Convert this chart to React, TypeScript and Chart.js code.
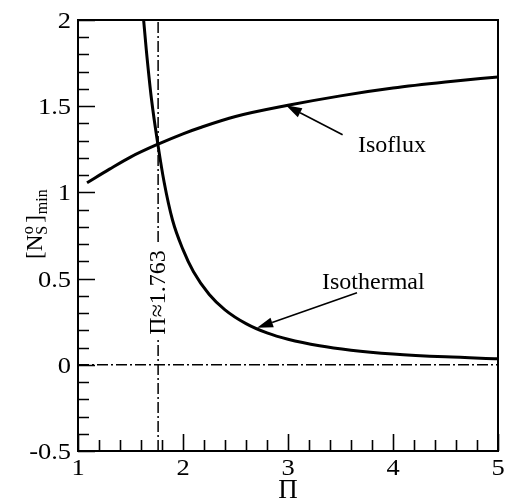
import React, { useEffect, useRef } from "react";
import { Chart, registerables } from "chart.js";

Chart.register(...registerables);

// Minimum Nusselt-type number [N_S^o]_min against Π for the two wall conditions
const isofluxPi = [1.086, 1.3, 1.5, 1.763, 2.0, 2.16, 2.5, 3.0, 3.5, 4.0, 4.5, 5.0];
const isofluxN = [1.056, 1.135, 1.205, 1.28, 1.34, 1.375, 1.44, 1.505, 1.56, 1.605, 1.64, 1.67];

const isothermalPi = [1.6, 1.622, 1.65, 1.7, 1.763, 1.82, 1.9, 2.0, 2.1, 2.25, 2.4, 2.6, 2.8, 3.0, 3.3, 3.6, 4.0, 4.5, 5.0];
const isothermalN = [2.2, 2.02, 1.83, 1.54, 1.27, 1.06, 0.84, 0.668, 0.54, 0.408, 0.319, 0.239, 0.185, 0.148, 0.11, 0.085, 0.063, 0.046, 0.035];

// Crossing point of the two curves
const piCross = 1.763;
const crossLabel = "Π≈1.763";

// Axis ranges and ticks
const xMin = 1;
const xMax = 5;
const yMin = -0.5;
const yMax = 2;
const xTicks = [1, 2, 3, 4, 5];
const xTickLabels = ["1", "2", "3", "4", "5"];
const yTicks = [-0.5, 0, 0.5, 1, 1.5, 2];
const yTickLabels = ["-0.5", "0", "0.5", "1", "1.5", "2"];
const xMinorStep = 0.2;
const yMinorStep = 0.1;

// Callout labels (text anchor) and arrows (tail -> tip), in data units
const isofluxLabel = { text: "Isoflux", x: 3.667, y: 1.235 };
const isofluxArrow = { x0: 3.52, y0: 1.334, x1: 2.98, y1: 1.505 };
const isothermalLabel = { text: "Isothermal", x: 3.324, y: 0.441 };
const isothermalArrow = { x0: 3.657, y0: 0.418, x1: 2.705, y1: 0.215 };

const SERIF = '"Liberation Serif", "Times New Roman", serif';

const toPoints = (xs: number[], ys: number[]) => xs.map((x, i) => ({ x, y: ys[i] }));

function drawArrow(ctx: CanvasRenderingContext2D, x0: number, y0: number, x1: number, y1: number) {
  const ang = Math.atan2(y1 - y0, x1 - x0);
  const len = 16;
  const half = 5;
  const bx = x1 - len * Math.cos(ang);
  const by = y1 - len * Math.sin(ang);
  ctx.beginPath();
  ctx.moveTo(x0, y0);
  ctx.lineTo(bx, by);
  ctx.lineWidth = 1.6;
  ctx.stroke();
  ctx.beginPath();
  ctx.moveTo(x1, y1);
  ctx.lineTo(bx + half * Math.sin(ang), by - half * Math.cos(ang));
  ctx.lineTo(bx - half * Math.sin(ang), by + half * Math.cos(ang));
  ctx.closePath();
  ctx.fill();
}

const figurePlugin = {
  id: "figureDecor",
  beforeDatasetsDraw(chart: any) {
    const { ctx, chartArea: a, scales } = chart;
    const xs = scales.x;
    const ys = scales.y;
    ctx.save();
    ctx.strokeStyle = "#000";
    ctx.lineWidth = 1.5;
    ctx.setLineDash([11, 3, 2, 3]);
    // zero line
    const y0 = ys.getPixelForValue(0);
    ctx.beginPath();
    ctx.moveTo(a.left, y0);
    ctx.lineTo(a.right, y0);
    ctx.stroke();
    // vertical line at the crossing
    const xc = xs.getPixelForValue(piCross);
    ctx.beginPath();
    ctx.moveTo(xc, a.bottom);
    ctx.lineTo(xc, a.top);
    ctx.stroke();
    ctx.setLineDash([]);

    // rotated label sitting on the vertical line
    ctx.font = `24px ${SERIF}`;
    const w = ctx.measureText(crossLabel).width;
    const startY = ys.getPixelForValue(0.175);
    ctx.fillStyle = "#fff";
    ctx.fillRect(xc - 11, startY - w - 6, 21, w + 9);
    ctx.translate(xc + 7, startY);
    ctx.rotate(-Math.PI / 2);
    ctx.fillStyle = "#000";
    ctx.textAlign = "left";
    ctx.textBaseline = "alphabetic";
    ctx.fillText(crossLabel, 0, 0);
    ctx.restore();
  },
  afterDatasetsDraw(chart: any) {
    const { ctx, chartArea: a, scales } = chart;
    const xs = scales.x;
    const ys = scales.y;
    ctx.save();
    ctx.strokeStyle = "#000";
    ctx.fillStyle = "#000";

    // frame
    ctx.lineWidth = 2;
    ctx.strokeRect(a.left, a.top, a.right - a.left, a.bottom - a.top);

    // inward ticks on the bottom and left axes
    ctx.lineWidth = 1.6;
    ctx.beginPath();
    const nx = Math.round((xMax - xMin) / xMinorStep);
    for (let i = 0; i <= nx; i++) {
      const v = xMin + i * xMinorStep;
      const major = xTicks.some((t) => Math.abs(t - v) < 1e-6);
      const px = Math.round(xs.getPixelForValue(v)) + 0.5;
      ctx.moveTo(px, a.bottom);
      ctx.lineTo(px, a.bottom - (major ? 17 : 11));
    }
    const ny = Math.round((yMax - yMin) / yMinorStep);
    for (let i = 0; i <= ny; i++) {
      const v = yMin + i * yMinorStep;
      const major = yTicks.some((t) => Math.abs(t - v) < 1e-6);
      const py = Math.round(ys.getPixelForValue(v)) + 0.5;
      ctx.moveTo(a.left, py);
      ctx.lineTo(a.left + (major ? 17 : 11), py);
    }
    ctx.stroke();

    // tick labels
    const stretch = 1.15;
    ctx.font = `23px ${SERIF}`;
    ctx.textBaseline = "alphabetic";
    xTicks.forEach((t, i) => {
      ctx.save();
      ctx.translate(xs.getPixelForValue(t), a.bottom + 24);
      ctx.scale(stretch, 1);
      ctx.textAlign = "center";
      ctx.fillText(xTickLabels[i], 0, 0);
      ctx.restore();
    });
    yTicks.forEach((t, i) => {
      ctx.save();
      ctx.translate(a.left - 7, ys.getPixelForValue(t) + 8);
      ctx.scale(stretch, 1);
      ctx.textAlign = "right";
      ctx.fillText(yTickLabels[i], 0, 0);
      ctx.restore();
    });

    // callouts
    ctx.font = `24px ${SERIF}`;
    ctx.textAlign = "left";
    ctx.fillText(isofluxLabel.text, xs.getPixelForValue(isofluxLabel.x), ys.getPixelForValue(isofluxLabel.y));
    ctx.fillText(isothermalLabel.text, xs.getPixelForValue(isothermalLabel.x), ys.getPixelForValue(isothermalLabel.y));
    drawArrow(
      ctx,
      xs.getPixelForValue(isofluxArrow.x0),
      ys.getPixelForValue(isofluxArrow.y0),
      xs.getPixelForValue(isofluxArrow.x1),
      ys.getPixelForValue(isofluxArrow.y1)
    );
    drawArrow(
      ctx,
      xs.getPixelForValue(isothermalArrow.x0),
      ys.getPixelForValue(isothermalArrow.y0),
      xs.getPixelForValue(isothermalArrow.x1),
      ys.getPixelForValue(isothermalArrow.y1)
    );

    // x axis title
    ctx.font = `27px ${SERIF}`;
    ctx.textAlign = "center";
    ctx.fillText("Π", (a.left + a.right) / 2, a.bottom + 47);

    // y axis title [N_S^o]_min, rotated
    ctx.save();
    ctx.translate(42, 259);
    ctx.rotate(-Math.PI / 2);
    ctx.textAlign = "left";
    ctx.font = `23px ${SERIF}`;
    ctx.fillText("[N", 0, 0);
    let u = ctx.measureText("[N").width;
    ctx.font = `16px ${SERIF}`;
    ctx.fillText("S", u, 5);
    ctx.fillText("o", u + 0.5, -9);
    u += ctx.measureText("S").width + 3;
    ctx.font = `23px ${SERIF}`;
    ctx.fillText("]", u, 0);
    u += ctx.measureText("]").width + 1;
    ctx.font = `16px ${SERIF}`;
    ctx.fillText("min", u, 5);
    ctx.restore();

    ctx.restore();
  },
};

export default function App() {
  const canvasRef = useRef<HTMLCanvasElement | null>(null);

  useEffect(() => {
    const canvas = canvasRef.current;
    if (!canvas) return;
    const chart = new Chart(canvas, {
      type: "line",
      data: {
        datasets: [
          {
            label: "Isoflux",
            data: toPoints(isofluxPi, isofluxN),
            borderColor: "#000",
            borderWidth: 3,
            pointRadius: 0,
            cubicInterpolationMode: "monotone",
            fill: false,
          },
          {
            label: "Isothermal",
            data: toPoints(isothermalPi, isothermalN),
            borderColor: "#000",
            borderWidth: 3,
            pointRadius: 0,
            cubicInterpolationMode: "monotone",
            fill: false,
          },
        ],
      },
      options: {
        responsive: false,
        animation: false,
        devicePixelRatio: 1,
        layout: { padding: { left: 78, top: 20, right: 11, bottom: 50 } },
        plugins: { legend: { display: false }, tooltip: { enabled: false } },
        scales: {
          x: { type: "linear", min: xMin, max: xMax, display: false },
          y: { type: "linear", min: yMin, max: yMax, display: false },
        },
      },
      plugins: [figurePlugin],
    });
    return () => chart.destroy();
  }, []);

  return (
    <div style={{ position: "fixed", left: 0, top: 0, width: 509, height: 501, background: "#fff" }}>
      <canvas ref={canvasRef} width={509} height={501} style={{ display: "block" }} />
    </div>
  );
}
